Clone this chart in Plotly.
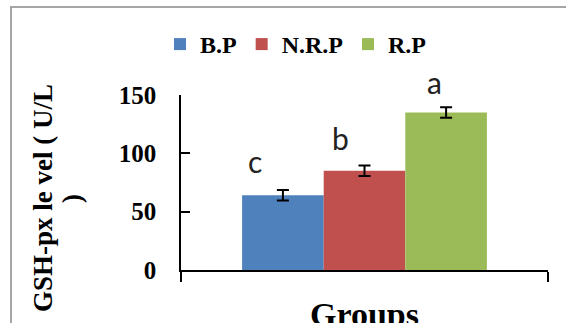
import plotly.graph_objects as go

# ---- data ----
categories = ["Groups"]
series_names = ["B.P", "N.R.P", "R.P"]
values = [64, 85, 135]
errors = [4.5, 4.5, 4.5]
letters = ["c", "b", "a"]
y_ticks = [0, 50, 100, 150]
x_title = "Groups"

colors = ["#4F81BD", "#C0504D", "#9BBB59"]
letter_xshift = [-28, -24, -12]
letter_yoffset = [25, 24, 21.5]

serif = "Liberation Serif"
Y_MAX = 150

# plot-area geometry in pixels
L, R, T, B = 181, 548, 95, 270
W, H = 566, 323
PW, PH = R - L, B - T


def px_x(x):
    return (x - L) / PW


def px_y(y):
    return (B - y) / PH


fig = go.Figure()
for name, v, e, c in zip(series_names, values, errors, colors):
    fig.add_trace(go.Bar(
        x=categories, y=[v], name=name, marker=dict(color=c, line=dict(width=0)),
        error_y=dict(type="data", array=[e], visible=True, color="black", thickness=2, width=6),
    ))

# bar centres within the single category (group width = 1 - bargap)
bargap = 1 - 0.667
n = len(values)
bw = (1 - bargap) / n
centres = [-(1 - bargap) / 2 + bw * (i + 0.5) for i in range(n)]

for i, (ltr, v, e) in enumerate(zip(letters, values, errors)):
    fig.add_annotation(
        x=centres[i], y=(v + e + letter_yoffset[i]) / Y_MAX, xref="x", yref="paper",
        text=ltr, showarrow=False, xshift=letter_xshift[i],
        font=dict(family="Lato", size=30, color="#222"),
        xanchor="center", yanchor="middle",
    )

# y title (two lines, as in the reference)
fig.add_annotation(
    x=px_x(43), y=px_y(198), xref="paper", yref="paper",
    text="GSH-px le vel ( U/L", textangle=-90, showarrow=False,
    font=dict(family=serif, size=27, color="black", weight="bold"),
    xanchor="center", yanchor="middle",
)
fig.add_annotation(
    x=px_x(72), y=px_y(199), xref="paper", yref="paper",
    text=")", textangle=-90, showarrow=False,
    font=dict(family=serif, size=27, color="black", weight="bold"),
    xanchor="center", yanchor="middle",
)

# x title (cut by the bottom edge, as in the reference)
fig.add_annotation(
    x=0.5, y=px_y(314), xref="paper", yref="paper",
    text=x_title, showarrow=False,
    font=dict(family=serif, size=34, color="black", weight="bold"),
    xanchor="center", yanchor="middle",
)

# outer frame
fig.add_shape(type="rect", xref="paper", yref="paper",
              x0=px_x(11), x1=2.0, y0=-1.0, y1=px_y(7),
              line=dict(color="#A6A6A6", width=2), fillcolor="rgba(0,0,0,0)", layer="below")

fig.update_layout(
    width=W, height=H,
    margin=dict(l=L, r=W - R, t=T, b=H - B, pad=0, autoexpand=False),
    paper_bgcolor="white", plot_bgcolor="white",
    barmode="group", bargap=bargap, bargroupgap=0,
    showlegend=True,
    legend=dict(orientation="h", x=px_x(160), xanchor="left",
                y=px_y(44.5), yanchor="middle",
                font=dict(family=serif, size=24, color="black", weight="bold"),
                bgcolor="rgba(0,0,0,0)", itemwidth=30),
    xaxis=dict(
        type="category", automargin=False, showline=True, linecolor="black", linewidth=1.5,
        ticks="outside", tickson="boundaries", ticklen=10, tickwidth=1.5, tickcolor="black",
        showticklabels=False, showgrid=False, zeroline=False,
    ),
    yaxis=dict(
        range=[0, Y_MAX], tickvals=y_ticks, automargin=False, showline=True,
        linecolor="black", linewidth=1.5,
        ticks="inside", ticklen=9, tickwidth=1.5, tickcolor="black",
        showgrid=False, zeroline=False, ticklabelstandoff=18,
        tickfont=dict(family=serif, size=25, color="black", weight="bold"),
    ),
)

fig.write_html("out.html", config={"displayModeBar": False},
               post_script="document.body.style.margin='0';")
